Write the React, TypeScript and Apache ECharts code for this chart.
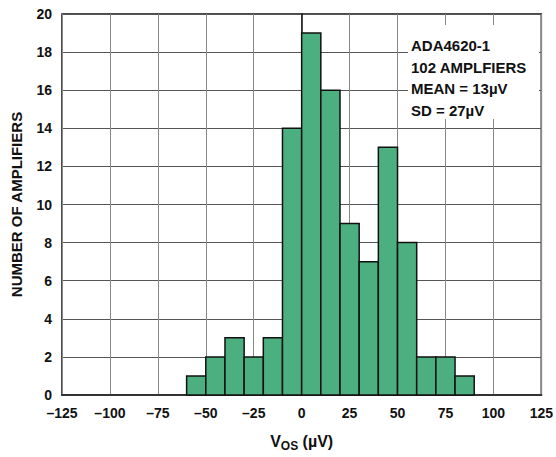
import React, { useEffect, useRef } from "react";
import * as echarts from "echarts";

const binStarts = [-60, -50, -40, -30, -20, -10, 0, 10, 20, 30, 40, 50, 60, 70, 80];
const binWidth = 10;
const counts = [1, 2, 3, 2, 3, 14, 19, 16, 9, 7, 13, 8, 2, 2, 1];
const xTicks = [-125, -100, -75, -50, -25, 0, 25, 50, 75, 100, 125];
const yTicks = [0, 2, 4, 6, 8, 10, 12, 14, 16, 18, 20];
const infoLines = ["ADA4620-1", "102 AMPLFIERS", "MEAN = 13µV", "SD = 27µV"];

const FONT = "'Liberation Sans', Arial, sans-serif";

export default function App() {
  const ref = useRef<HTMLDivElement>(null);
  useEffect(() => {
    if (!ref.current) return;
    const chart = echarts.init(ref.current, null, { renderer: "svg" });
    const data = binStarts.map((s, i) => [s, s + binWidth, counts[i]]);
    chart.setOption({
      animation: false,
      backgroundColor: "#fff",
      grid: {
        left: 62,
        right: 13,
        top: 14,
        bottom: 57,
        show: true,
        borderColor: "#111",
        borderWidth: 1.5,
      },
      xAxis: {
        type: "value",
        min: xTicks[0],
        max: xTicks[xTicks.length - 1],
        interval: 25,
        axisLine: { show: true, lineStyle: { color: "#333", width: 2 } },
        axisTick: { show: false },
        splitLine: { show: true, lineStyle: { color: "#888", width: 1 } },
        axisLabel: {
          margin: 11,
          color: "#111",
          fontFamily: FONT,
          fontWeight: "bold",
          fontSize: 14,
          formatter: (v: number) => (v < 0 ? "\u2013" + Math.abs(v) : String(v)),
        },
        name: "{v|V}{s|OS}{v| (µV)}",
        nameLocation: "middle",
        nameGap: 36,
        nameTextStyle: {
          rich: {
            v: { fontFamily: FONT, fontWeight: "bold", fontSize: 16, color: "#111" },
            s: { fontFamily: FONT, fontWeight: "bold", fontSize: 12, color: "#111", padding: [9, 0, 0, 0] },
          },
        },
      },
      yAxis: {
        type: "value",
        min: yTicks[0],
        max: yTicks[yTicks.length - 1],
        interval: 2,
        axisLine: { show: true, lineStyle: { color: "#111", width: 1.5 } },
        axisTick: { show: false },
        splitLine: { show: true, lineStyle: { color: "#555", width: 1 } },
        axisLabel: {
          margin: 10,
          color: "#111",
          fontFamily: FONT,
          fontWeight: "bold",
          fontSize: 14,
        },
        name: "NUMBER OF AMPLIFIERS",
        nameLocation: "middle",
        nameGap: 38,
        nameTextStyle: {
          fontFamily: FONT,
          fontWeight: "bold",
          fontSize: 15,
          color: "#111",
        },
      },
      series: [
        {
          type: "custom",
          data,
          encode: { x: [0, 1], y: 2 },
          renderItem: (params: any, api: any) => {
            const p0 = api.coord([api.value(0), api.value(2)]);
            const p1 = api.coord([api.value(1), 0]);
            return {
              type: "rect",
              shape: { x: p0[0], y: p0[1], width: p1[0] - p0[0], height: p1[1] - p0[1] },
              style: { fill: "#4CAF80", stroke: "#111", lineWidth: 1.5 },
            };
          },
        },
      ],
      graphic: [
        {
          type: "rect",
          left: 408,
          top: 25,
          shape: { width: 131, height: 94 },
          style: { fill: "#fff" },
          z: 10,
        },
        {
          type: "text",
          left: 411,
          top: 35,
          z: 11,
          style: {
            text: infoLines.join("\n"),
            fontFamily: FONT,
            fontWeight: "bold",
            fontSize: 15,
            lineHeight: 21.5,
            fill: "#111",
          },
        },
      ],
    });
    return () => chart.dispose();
  }, []);
  return (
    <div
      ref={ref}
      style={{ position: "fixed", left: 0, top: 0, width: 556, height: 457 }}
    />
  );
}
